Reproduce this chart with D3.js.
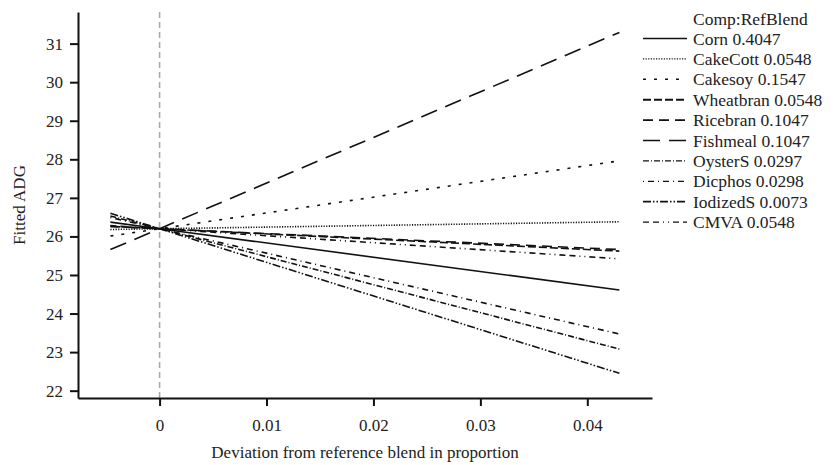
<!DOCTYPE html>
<meta charset="utf-8">
<style>
body { margin: 0; background: #fff; }
svg text { font-family: "Liberation Serif", "Times New Roman", Times, serif !important; fill: #222; }
.axis text { font-size: 17px; }
.axis path, .axis line { stroke: #111; stroke-width: 2; }
.series { fill: none; stroke: #111; stroke-width: 1.6; }
</style>
<body>
<script src="https://cdn.jsdelivr.net/npm/d3@7"></script>
<script>

var W = 834, H = 465;
var margin = {top: 12, right: 182, bottom: 67, left: 78},
    width = W - margin.left - margin.right,
    height = H - margin.top - margin.bottom;

var serif = "Liberation Serif, Times New Roman, serif";

// components and their reference-blend proportions
var components = ["Corn", "CakeCott", "Cakesoy", "Wheatbran", "Ricebran",
                  "Fishmeal", "OysterS", "Dicphos", "IodizedS", "CMVA"];
var refBlend = [0.4047, 0.0548, 0.1547, 0.0548, 0.1047,
                0.1047, 0.0297, 0.0298, 0.0073, 0.0548];

// deviation points where each line is drawn
var deviations = [-0.0046, 0, 0.043];

// fitted ADG at those deviations
var fitCorn      = [26.37, 26.2, 24.61];
var fitCakeCott  = [26.18, 26.2, 26.38];
var fitCakesoy   = [26.01, 26.2, 27.96];
var fitWheatbran = [26.26, 26.2, 25.62];
var fitRicebran  = [26.26, 26.2, 25.66];
var fitFishmeal  = [25.66, 26.2, 31.29];
var fitOysterS   = [26.53, 26.2, 23.08];
var fitDicphos   = [26.49, 26.2, 23.47];
var fitIodizedS  = [26.60, 26.2, 22.45];
var fitCMVA      = [26.28, 26.2, 25.42];

var fits = [fitCorn, fitCakeCott, fitCakesoy, fitWheatbran, fitRicebran,
            fitFishmeal, fitOysterS, fitDicphos, fitIodizedS, fitCMVA];

var xTicks = [0, 0.01, 0.02, 0.03, 0.04];
var yTicks = [22, 23, 24, 25, 26, 27, 28, 29, 30, 31];

var dashes = ["none", "1.2,1.4", "3,8", "8,3", "10,6",
              "17,9", "6,2,1,2", "1,4,6,4", "8,2,1.5,2,1.5,2", "6,4,6,4,1,4,1,4"];
var widths = [1.6, 1.4, 1.4, 1.9, 1.6, 1.7, 1.2, 1.3, 1.8, 1.3];

var svg = d3.select("body").append("svg")
    .attr("width", W)
    .attr("height", H)
    .attr("font-family", serif);

var g = svg.append("g")
    .attr("transform", "translate(" + margin.left + "," + margin.top + ")");

var x = d3.scaleLinear()
    .domain([-0.00763, 0.04605])
    .range([0, width]);

var y = d3.scaleLinear()
    .domain([21.81, 31.82])
    .range([height, 0]);

// reference line at zero deviation
g.append("line")
    .attr("x1", x(0)).attr("x2", x(0))
    .attr("y1", 0).attr("y2", height)
    .attr("stroke", "#aaa")
    .attr("stroke-width", 1.6)
    .attr("stroke-dasharray", "6,4");

var line = d3.line()
    .x(function(d, i) { return x(deviations[i]); })
    .y(function(d) { return y(d); });

g.selectAll(".series")
    .data(fits)
  .enter().append("path")
    .attr("class", "series")
    .attr("d", line)
    .attr("stroke-width", function(d, i) { return widths[i]; })
    .attr("stroke-dasharray", function(d, i) { return dashes[i]; });

var fmt = d3.format(".2f");

g.append("g")
    .attr("class", "axis")
    .attr("transform", "translate(0," + height + ")")
    .call(d3.axisBottom(x)
        .tickValues(xTicks)
        .tickSize(8)
        .tickSizeOuter(0)
        .tickPadding(13)
        .tickFormat(function(d) { return d === 0 ? "0" : fmt(d); }))
    .attr("font-family", serif);

g.append("g")
    .attr("class", "axis")
    .call(d3.axisLeft(y)
        .tickValues(yTicks)
        .tickSize(8)
        .tickSizeOuter(0)
        .tickPadding(7))
    .attr("font-family", serif);

// axis titles
svg.append("text")
    .attr("x", margin.left + width / 2)
    .attr("y", 458)
    .attr("text-anchor", "middle")
    .style("font-size", "17px")
    .text("Deviation from reference blend in proportion");

svg.append("text")
    .attr("transform", "translate(25," + (margin.top + height / 2) + ") rotate(-90)")
    .attr("text-anchor", "middle")
    .style("font-size", "17px")
    .text("Fitted ADG");

// legend
var legend = svg.append("g")
    .attr("transform", "translate(643,0)");

legend.append("text")
    .attr("x", 50)
    .attr("y", 25)
    .style("font-size", "17.5px")
    .text("Comp:RefBlend");

var item = legend.selectAll(".item")
    .data(components)
  .enter().append("g")
    .attr("class", "item")
    .attr("transform", function(d, i) { return "translate(0," + (38.5 + i * 20.4) + ")"; });

item.append("line")
    .attr("x1", 0).attr("x2", 44)
    .attr("stroke", "#111")
    .attr("stroke-width", function(d, i) { return widths[i]; })
    .attr("stroke-dasharray", function(d, i) { return dashes[i]; });

item.append("text")
    .attr("x", 50)
    .attr("y", 6)
    .style("font-size", "17.5px")
    .text(function(d, i) { return d + " " + refBlend[i]; });

</script>
